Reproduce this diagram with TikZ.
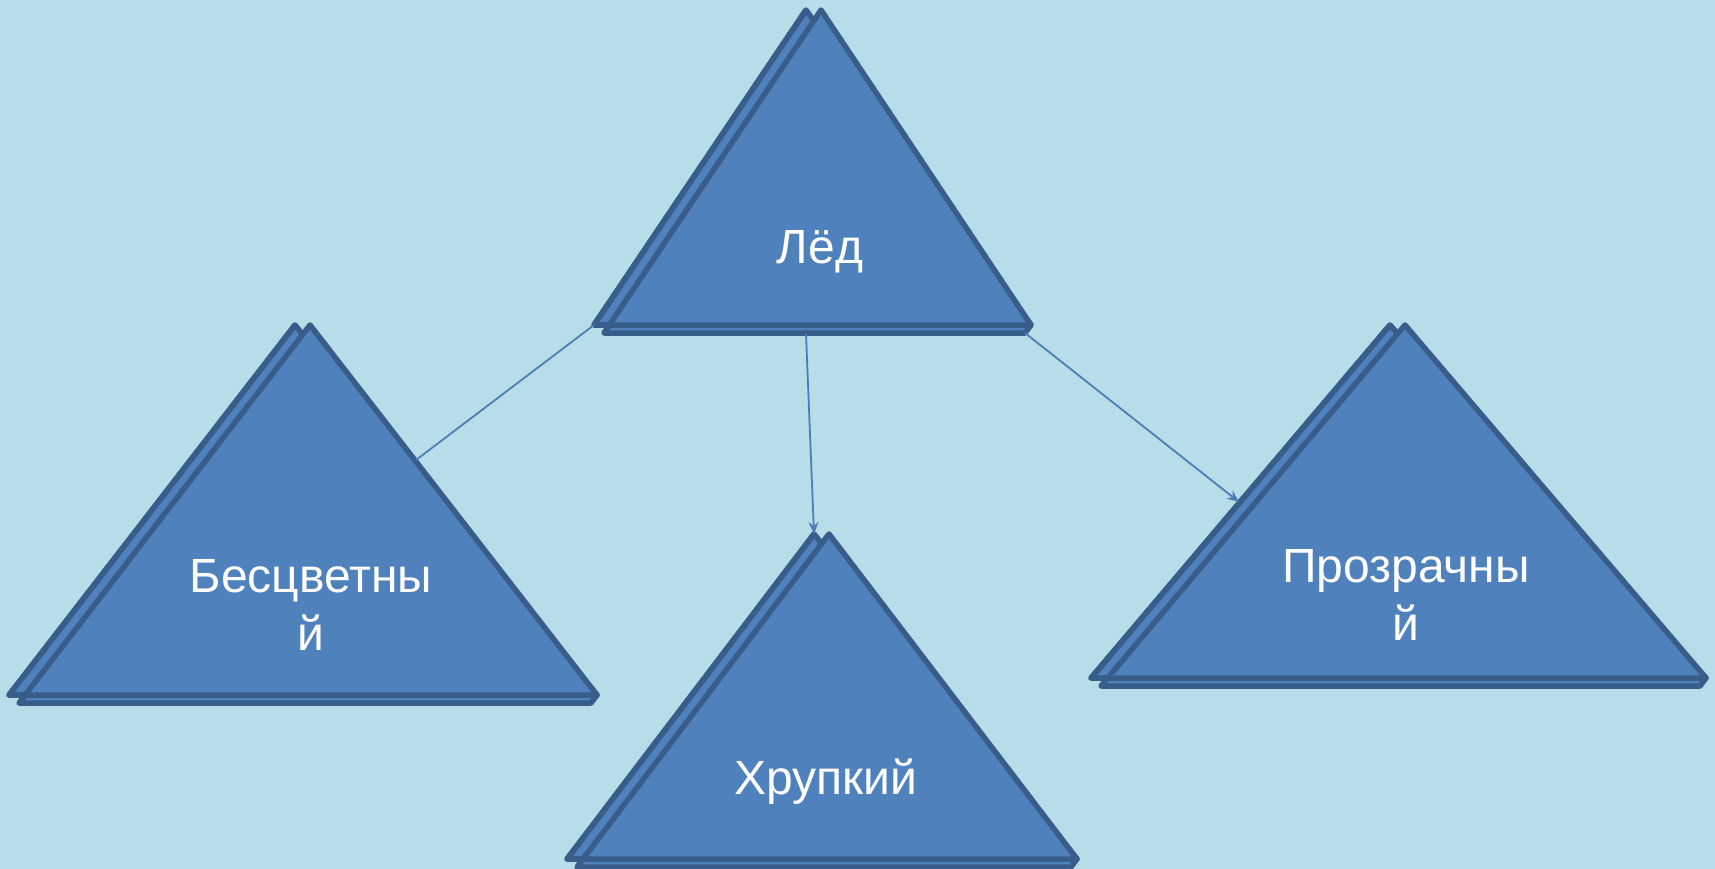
\documentclass[tikz,border=0pt]{standalone}
\usepackage{fontspec}
\setmainfont{Liberation Sans}
\usetikzlibrary{arrows.meta}

\definecolor{bgblue}{RGB}{183,221,232}
\definecolor{trifill}{RGB}{79,129,189}
\definecolor{triline}{RGB}{56,93,138}
\definecolor{linkblue}{RGB}{74,126,187}

\newcommand{\txtscl}{\fontsize{48}{58}\selectfont}
% name, apex x, apex y, left x, right x, base y
\newcommand{\tristack}[6]{
    \filldraw[tribox] (#2,#3) -- (#4,#6) -- (#5,#6) -- cycle;
    \filldraw[tribox] (#2+15,#3) -- (#4+10,#6+8) -- (#5-6,#6+8) -- (#5,#6) -- cycle;
    \draw[triedge] (#2,#3) -- (#4,#6) -- (#5,#6);
    \coordinate (#1-top) at (#2,#3);
    \coordinate (#1-bl) at (#4,#6);
    \coordinate (#1-br2) at (#5-6,#6+8);
}

\tikzset{
    triedge/.style={draw=triline, line width=5.5pt, line join=round},
    tribox/.style={triedge, fill=trifill},
    lbl/.style={text=white, font=\txtscl, align=center},
    link/.style={draw=linkblue, line width=1.8pt},
    arr/.style={link, -{Stealth[length=12pt, width=10pt, inset=4pt]}}
}

\begin{document}
\begin{tikzpicture}[x=1pt, y=-1pt]
    \fill[bgblue] (0,0) rectangle (1715,869);
    \useasboundingbox (0,0) rectangle (1715,869);

    \tristack{led}{806}{10}{594}{1031}{325}
    \tristack{bes}{295}{325}{9}{597}{695}
    \tristack{hru}{814}{534}{567}{1077}{859}
    \tristack{proz}{1390}{325}{1091}{1706}{678}

    \node[lbl] (led) at (820,252) {Лёд};
    \node[lbl] (bes) at (311,605) {Бесцветны\\й};
    \node[lbl] (hru) at (826,782) {Хрупкий};
    \node[lbl] (proz) at (1406,595) {Прозрачны\\й};

    \coordinate (led-bot) at (806,334);
    \coordinate (bes-hit) at (416,460);
    \coordinate (proz-hit) at (1239,502);

    \draw[link] (led-bl) -- (bes-hit);
    \draw[arr] (led-bot) -- (hru-top);
    \draw[arr] (led-br2) -- (proz-hit);
\end{tikzpicture}
\end{document}
